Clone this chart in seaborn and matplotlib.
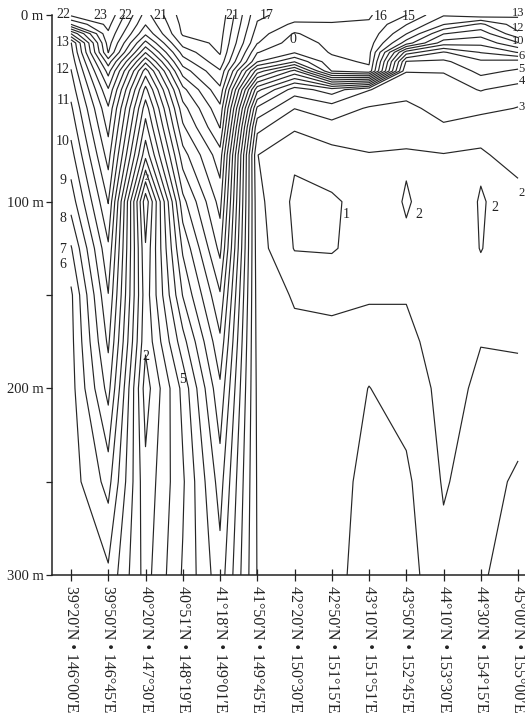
import numpy as np
import matplotlib
matplotlib.use("Agg")
import matplotlib.pyplot as plt
import seaborn as sns

# ---- data read from the section (temperature, deg C) ----
station_labels = [
    "39°20′N • 146°00′E", "39°50′N • 146°45′E", "40°20′N • 147°30′E",
    "40°51′N • 148°19′E", "41°18′N • 149°01′E", "41°50′N • 149°45′E",
    "42°20′N • 150°30′E", "42°50′N • 151°15′E", "43°10′N • 151°51′E",
    "43°50′N • 152°45′E", "44°10′N • 153°30′E", "44°30′N • 154°15′E",
    "45°00′N • 155°00′E",
]
depths = [0, 5, 10, 15, 20, 25, 30, 40, 50, 60, 75, 100, 125, 150, 175, 200, 250, 300]

t_s01 = [22.2, 20.0, 16.0, 12.93, 12.6, 12.27, 11.94, 11.35, 10.81, 10.33, 9.62, 8.43, 6.9, 5.8, 5.7, 5.6, 5.5, 5.4]
t_s02 = [22.8, 22.3, 21.85, 21.45, 21.05, 19.5, 18.4, 16.9, 15.88, 15.3, 14.44, 13.05, 11.83, 10.97, 10.2, 9.36, 7.36, 5.8]
t_s03 = [18.6, 18.05, 17.2, 15.67, 14.05, 12.25, 10.5, 8.67, 7.45, 6.64, 5.3, 1.3, 2.1, 2.4, 2.2, 1.5, 2.3, 2.6]
t_s04 = [21.5, 21.3, 21.15, 20.4, 19.4, 18.5, 17.5, 15.7, 14.6, 13.83, 12.58, 10.67, 9.17, 8.05, 6.6, 5.3, 4.85, 5.1]
t_s05 = [21.7, 21.55, 21.4, 21.25, 21.1, 20.67, 19.9, 18.78, 17.77, 17.05, 15.6, 14.39, 13.3, 11.9, 10.8, 9.81, 8.44, 7.6]
t_s06 = [17.2, 16.9, 16.5, 16.05, 15.05, 14.05, 11.5, 7.3, 4.8, 3.3, 2.02, 2.3, 2.45, 2.6, 2.7, 2.8, 2.9, 2.95]
t_s07 = [16.6, 15.8, 14.9, 14.45, 14.1, 12.05, 8.7, 4.5, 3.02, 2.15, 1.15, 0.8, 0.95, 1.9, 2.25, 2.5, 2.7, 2.85]
t_s08 = [16.4, 15.9, 15.6, 15.3, 15.1, 14.7, 14.05, 5.5, 3.5, 2.7, 1.6, 0.85, 0.9, 1.8, 2.25, 2.45, 2.6, 2.65]
t_s09 = [16.1, 15.9, 15.7, 15.5, 15.3, 15.15, 14.7, 4.05, 2.9, 2.5, 1.95, 1.4, 1.5, 1.85, 2.6, 3.02, 3.3, 3.5]
t_s10 = [15.02, 14.05, 13.05, 11.5, 7.5, 4.9, 4.05, 3.3, 2.8, 2.35, 1.9, 2.08, 1.85, 1.95, 2.2, 2.6, 3.2, 3.4]
t_s11 = [13.1, 12.05, 10.05, 8.5, 5.9, 4.8, 4.05, 3.6, 3.3, 2.9, 1.95, 1.5, 1.55, 1.6, 1.65, 1.7, 1.9, 2.3]
t_s12 = [13.6, 10.8, 9.4, 8.3, 7.05, 5.8, 5.3, 4.05, 3.35, 2.3, 1.9, 2.05, 2.02, 1.8, 1.98, 2.15, 2.5, 2.9]
t_s13 = [13.15, 12.55, 11.8, 9.9, 8.05, 5.6, 4.85, 3.6, 2.95, 2.7, 2.3, 1.7, 1.65, 1.7, 1.9, 2.3, 3.2, 3.4]

isotherm_levels = list(range(1, 23))
depth_ticks = [0, 100, 200, 300]
depth_tick_labels = ["0 m", "100 m", "200 m", "300 m"]

# ---- style ----
sns.set_theme(style="white")
plt.rcParams["font.family"] = ["Liberation Serif", "DejaVu Serif"]

profiles = [t_s01, t_s02, t_s03, t_s04, t_s05, t_s06, t_s07,
            t_s08, t_s09, t_s10, t_s11, t_s12, t_s13]
temp = np.array(profiles).T
xs = np.arange(len(station_labels))

W, H = 525, 723
fig = plt.figure(figsize=(W / 100, H / 100), dpi=100)
ax = fig.add_axes([52 / W, 1 - 575 / H, (525.5 - 52) / W, (575 - 15) / H])

ax.contour(xs, depths, temp, levels=isotherm_levels,
           colors="#262626", linewidths=0.85)

ax.set_xlim(-0.51, 12.2)
ax.set_ylim(300, 0)

for s in ["top", "right"]:
    ax.spines[s].set_visible(False)
for s in ["left", "bottom"]:
    ax.spines[s].set_color("#222222")
    ax.spines[s].set_linewidth(1.1)

ax.set_yticks(depth_ticks)
ax.set_yticklabels(depth_tick_labels, fontsize=10.5, color="#222222")
ax.set_yticks([150, 250], minor=True)
ax.tick_params(axis="y", which="both", direction="out", length=4, width=0.9,
               color="#222222", left=True, pad=2)

ax.set_xticks(xs)
ax.set_xticklabels(station_labels, rotation=-90, va="top", ha="center",
                   fontsize=11.5, color="#222222")
ax.tick_params(axis="x", direction="inout", length=8, width=0.9,
               color="#222222", bottom=True, pad=4)


# ---- isotherm labels (pixel positions converted to data coords) ----
def lab(px, py, s, size=10, ha="center"):
    ax.text((px - 71) / 37.25, (py - 15) / 1.8667, s, fontsize=size,
            ha=ha, va="center", color="#222222", clip_on=False)


for px, py, s in [(63, 15, "22"), (100, 16, "23"), (125, 16, "22"), (160, 16, "21"),
                  (232, 16, "21"), (267, 16, "17"), (381, 17, "16"), (409, 17, "15"),
                  (63, 43, "13"), (63, 70, "12"), (63, 101, "11"), (63, 142, "10"),
                  (63, 181, "9"), (63, 219, "8"), (63, 250, "7"), (63, 265, "6"),
                  (146, 357, "2"), (183, 380, "5"), (346, 215, "1"), (419, 215, "2"),
                  (495, 208, "2"), (293, 40, "0")]:
    lab(px, py, s)
for py, s in [(13, "13"), (28, "12"), (41, "10"), (56, "6"), (69, "5"),
              (81, "4"), (107, "3"), (193, "2")]:
    lab(524.5, py, s, size=9, ha="right")
lab(147, 178, "2", size=6)

fig.savefig("out.png", dpi=100)
